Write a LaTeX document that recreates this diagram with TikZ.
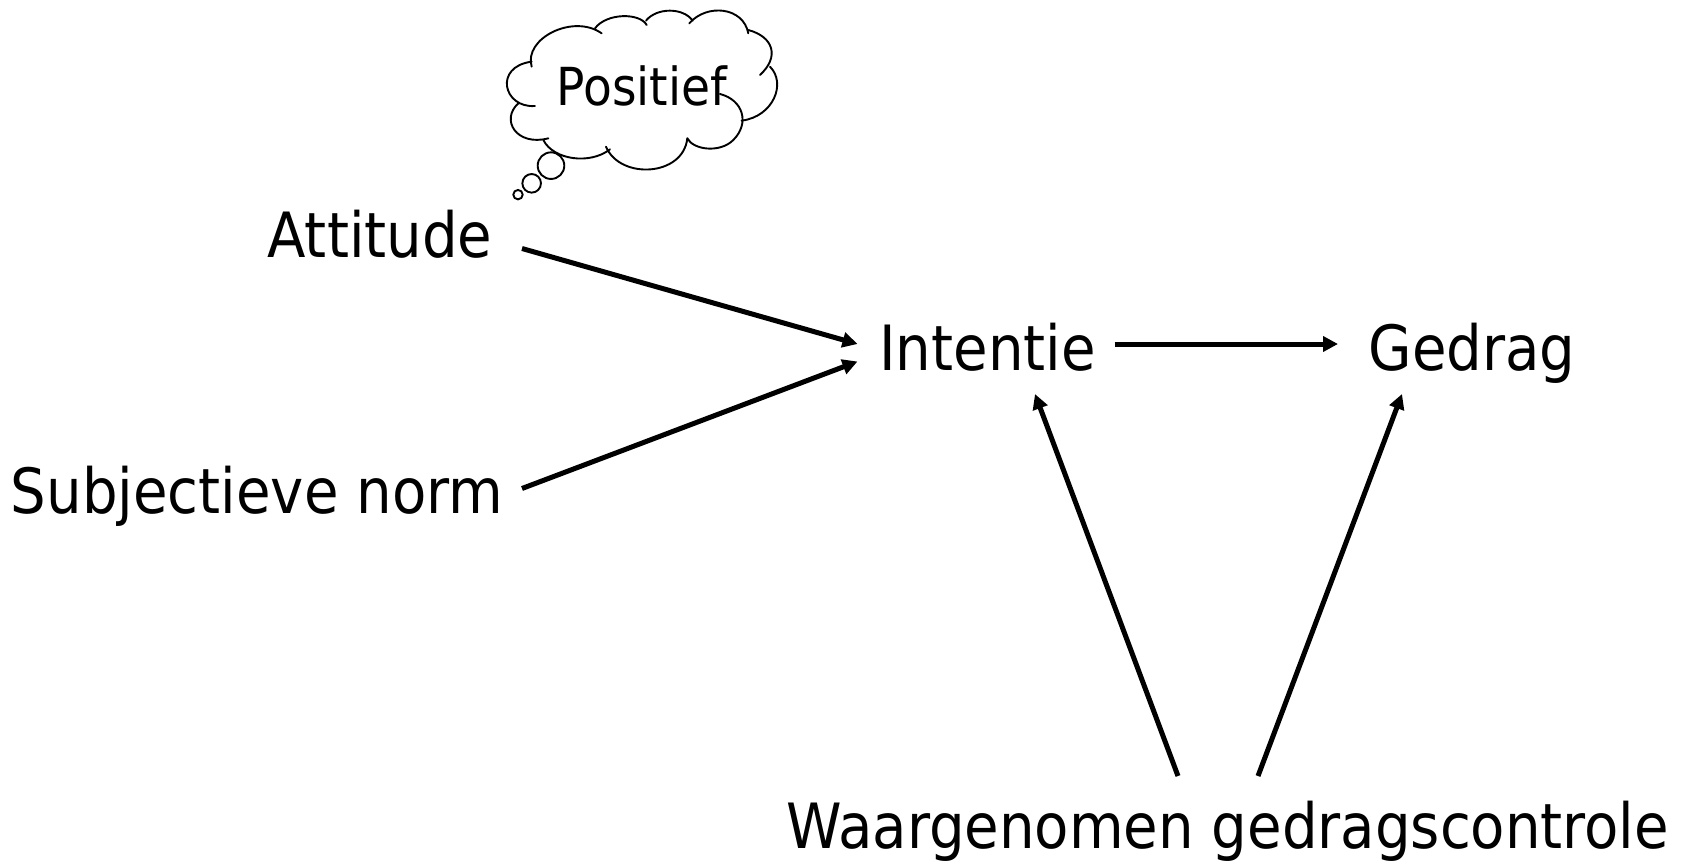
\documentclass[tikz,border=0pt]{standalone}
\usepackage{fontspec}
\setmainfont{DejaVu Sans Condensed}
\usetikzlibrary{arrows.meta}
\tikzset{
  term/.style={anchor=base,inner sep=0pt,font=\fontsize{62.4}{70}\selectfont,text=black},
  thought/.style={anchor=base,inner sep=0pt,font=\fontsize{52.4}{60}\selectfont,text=black},
  link/.style={line width=5pt,-{Triangle[length=15pt,width=15pt]}},
  outline/.style={line width=1.9pt,line cap=round}
}
\begin{document}
\begin{tikzpicture}[x=1pt,y=-1pt]
\useasboundingbox (0,0) rectangle (1687,862);
\node[term] (attitude) at (380,257) {Attitude};
\node[term] (norm) at (257,513) {Subjectieve norm};
\node[term] (intentie) at (987.5,370) {Intentie};
\node[term] (gedrag) at (1472,370) {Gedrag};
\node[term] (controle) at (1228,848) {Waargenomen gedragscontrole};
\draw[link] ([shift={(142,-8.5)}]attitude.base) -- ([shift={(-130,-26)}]intentie.base);
\draw[link] ([shift={(265,-24.5)}]norm.base) -- ([shift={(-130,-8.5)}]intentie.base);
\draw[link] ([shift={(127,-26)}]intentie.base) -- ([shift={(-134,-26)}]gedrag.base);
\draw[link] ([shift={(-50,-72)}]controle.base) -- ([shift={(47.5,24)}]intentie.base);
\draw[link] ([shift={(30,-72)}]controle.base) -- ([shift={(-70,24)}]gedrag.base);
\begin{scope}[shift={(480,0)},x=0.3333pt,y=-0.3333pt,outline]
\draw (213,497) circle[radius=13.3pt];
\draw (155,550) circle[radius=9.3pt];
\draw (114,584) circle[radius=4.7pt];
\draw[fill=white,draw=none] (155,200) -- (365,100) -- (805,100) -- (840,225) -- (785,362) -- (622,415) -- (378,440) -- (190,420) -- (115,310) -- cycle;
\draw (155,200) .. controls (130,115) and (280,40) .. (365,100);
\draw (345,85) .. controls (380,38) and (480,38) .. (500,75);
\draw (498,62) .. controls (530,22) and (610,22) .. (638,62);
\draw (628,70) .. controls (680,10) and (790,20) .. (805,100);
\draw (805,90) .. controls (880,110) and (900,170) .. (840,225);
\draw (870,200) .. controls (920,250) and (880,350) .. (785,362);
\draw (720,282) .. controls (790,300) and (810,370) .. (760,420) .. controls (720,460) and (640,450) .. (622,415);
\draw (622,415) .. controls (610,530) and (420,540) .. (378,440);
\draw (390,448) .. controls (330,495) and (220,480) .. (190,420);
\draw (205,415) .. controls (110,440) and (60,360) .. (115,310);
\draw (165,318) .. controls (70,325) and (40,200) .. (155,185);
\end{scope}
\node[thought] (positief) at (642,105) {Positief};
\end{tikzpicture}
\end{document}
